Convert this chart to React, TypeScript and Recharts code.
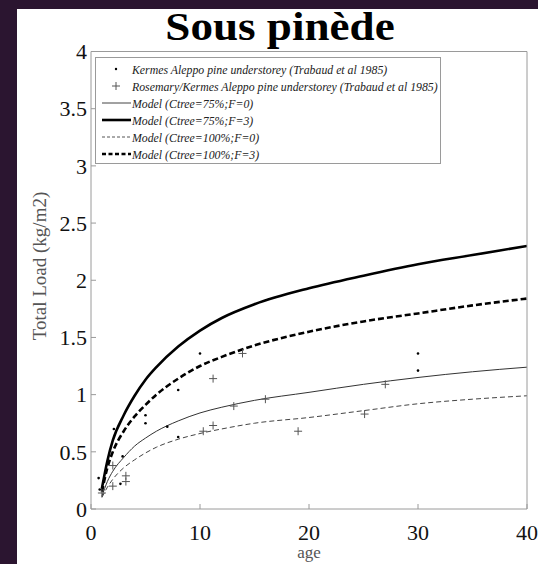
import React from 'react';
import { ComposedChart, Line, Scatter, XAxis, YAxis, Legend } from 'recharts';

// Model curves (age in years -> total load kg/m2)
const modelAges = [1, 1.5, 2, 3, 4, 5, 6, 8, 10, 12, 15, 20, 25, 30, 35, 40];
const model75F0 = [0.11, 0.24, 0.33, 0.45, 0.55, 0.62, 0.68, 0.77, 0.84, 0.89, 0.95, 1.02, 1.09, 1.15, 1.2, 1.24];
const model75F3 = [0.18, 0.42, 0.6, 0.82, 0.99, 1.13, 1.24, 1.42, 1.56, 1.67, 1.79, 1.93, 2.04, 2.14, 2.22, 2.3];
const model100F0 = [0.1, 0.19, 0.26, 0.36, 0.43, 0.49, 0.54, 0.61, 0.66, 0.7, 0.75, 0.8, 0.86, 0.92, 0.96, 0.99];
const model100F3 = [0.15, 0.36, 0.5, 0.68, 0.81, 0.91, 1.0, 1.14, 1.25, 1.33, 1.43, 1.55, 1.64, 1.71, 1.78, 1.84];

// Observations
const kermesAge = [0.7, 0.8, 2.1, 2.7, 2.9, 5, 5, 7, 8, 8, 10, 30, 30];
const kermesLoad = [0.27, 0.17, 0.7, 0.22, 0.46, 0.82, 0.75, 0.72, 0.63, 1.04, 1.36, 1.36, 1.21];
const rosemaryAge = [1, 2, 2, 3.2, 3.2, 10.3, 11.2, 11.2, 13.1, 13.9, 16, 19, 25.1, 27];
const rosemaryLoad = [0.14, 0.38, 0.2, 0.29, 0.24, 0.68, 0.73, 1.14, 0.9, 1.36, 0.96, 0.68, 0.83, 1.09];

const xTicks = [0, 10, 20, 30, 40];
const yTicks = [0, 0.5, 1, 1.5, 2, 2.5, 3, 3.5, 4];

const legendLabels = [
  'Kermes Aleppo pine understorey (Trabaud et al 1985)',
  'Rosemary/Kermes Aleppo pine understorey (Trabaud et al 1985)',
  'Model (Ctree=75%;F=0)',
  'Model (Ctree=75%;F=3)',
  'Model (Ctree=100%;F=0)',
  'Model (Ctree=100%;F=3)',
];

const toLine = (ys: number[]) => modelAges.map((x, i) => ({ x, y: ys[i] }));
const toPts = (xs: number[], ys: number[]) => xs.map((x, i) => ({ x, y: ys[i] }));

const line75F0 = toLine(model75F0);
const line75F3 = toLine(model75F3);
const line100F0 = toLine(model100F0);
const line100F3 = toLine(model100F3);
const kermesPts = toPts(kermesAge, kermesLoad);
const rosemaryPts = toPts(rosemaryAge, rosemaryLoad);

const SERIF = '"Liberation Serif", "Times New Roman", Times, serif';
const AXIS_GRAY = '#9a9a9a';

const DotShape = (p: any) => <circle cx={p.cx} cy={p.cy} r={1.3} fill="#000" />;
const PlusShape = (p: any) => (
  <path
    d={`M${p.cx - 4},${p.cy}H${p.cx + 4}M${p.cx},${p.cy - 4}V${p.cy + 4}`}
    stroke="#555"
    strokeWidth={1}
    fill="none"
  />
);
const NoTick = () => <g />;

const LegendBox = () => {
  const rowY = (i: number) => 12 + i * 17;
  const styles = [
    { w: 1, dash: undefined as string | undefined, color: '#444' },
    { w: 2.6, dash: undefined, color: '#000' },
    { w: 1, dash: '3 2', color: '#555' },
    { w: 2.6, dash: '4 2.5', color: '#000' },
  ];
  return (
    <svg width={346} height={107} style={{ display: 'block' }}>
      <rect x={0.5} y={0.5} width={345} height={106} fill="#fff" stroke={AXIS_GRAY} strokeWidth={1} />
      <circle cx={21} cy={rowY(0)} r={1.2} fill="#000" />
      <path d={`M17,${rowY(1)}H25M21,${rowY(1) - 4}V${rowY(1) + 4}`} stroke="#555" strokeWidth={1} />
      {styles.map((s, i) => (
        <line
          key={i}
          x1={7}
          x2={36}
          y1={rowY(i + 2)}
          y2={rowY(i + 2)}
          stroke={s.color}
          strokeWidth={s.w}
          strokeDasharray={s.dash}
        />
      ))}
      {legendLabels.map((t, i) => (
        <text
          key={t}
          x={37}
          y={rowY(i) + 4.5}
          fontFamily={SERIF}
          fontStyle="italic"
          fontSize={11.8}
          fill="#222"
        >
          {t}
        </text>
      ))}
    </svg>
  );
};

export default function App() {
  return (
    <div
      style={{
        position: 'fixed',
        left: 0,
        top: 0,
        width: 538,
        height: 564,
        background: '#2b1530',
        overflow: 'hidden',
      }}
    >
      <div style={{ position: 'absolute', left: 17, top: 9, width: 521, height: 555, background: '#fff' }} />
      <div
        style={{
          position: 'absolute',
          left: 90,
          top: 2,
          width: 380,
          textAlign: 'center',
          fontFamily: SERIF,
          fontWeight: 'bold',
          fontSize: 41,
          lineHeight: '48px',
          color: '#000',
          transform: 'scaleX(1.1)',
        }}
      >
        Sous pinède
      </div>
      <div
        style={{
          position: 'absolute',
          left: 40,
          top: 266,
          width: 0,
          height: 0,
        }}
      >
        <div
          style={{
            position: 'absolute',
            left: -100,
            top: -12,
            width: 200,
            textAlign: 'center',
            fontFamily: SERIF,
            fontSize: 19,
            lineHeight: '24px',
            color: '#555',
            transform: 'rotate(-90deg)',
            whiteSpace: 'nowrap',
          }}
        >
          Total Load (kg/m2)
        </div>
      </div>
      <div
        style={{
          position: 'absolute',
          left: 259,
          top: 543,
          width: 100,
          textAlign: 'center',
          fontFamily: SERIF,
          fontSize: 17,
          lineHeight: '20px',
          color: '#555',
        }}
      >
        age
      </div>
      <div style={{ position: 'absolute', left: 0, top: 0 }}>
        <ComposedChart
          width={538}
          height={564}
          margin={{ top: 50.5, right: 10, bottom: 25, left: 20 }}
        >
          <XAxis
            xAxisId={0}
            type="number"
            dataKey="x"
            domain={[0, 40]}
            ticks={xTicks}
            allowDataOverflow
            height={30}
            stroke={AXIS_GRAY}
            tickSize={-5}
            tickMargin={20}
            tick={{ fill: '#111', fontSize: 22, fontFamily: SERIF }}
            tickLine={{ stroke: AXIS_GRAY }}
          />
          <XAxis
            xAxisId="top"
            orientation="top"
            type="number"
            dataKey="x"
            domain={[0, 40]}
            ticks={xTicks}
            height={1}
            stroke={AXIS_GRAY}
            tickSize={-5}
            tick={NoTick}
            tickLine={{ stroke: AXIS_GRAY }}
          />
          <YAxis
            yAxisId={0}
            type="number"
            dataKey="y"
            domain={[0, 4]}
            ticks={yTicks}
            allowDataOverflow
            width={71}
            stroke={AXIS_GRAY}
            tickSize={-5}
            tickMargin={9}
            tick={{ fill: '#111', fontSize: 22, fontFamily: SERIF }}
            tickLine={{ stroke: AXIS_GRAY }}
          />
          <YAxis
            yAxisId="right"
            orientation="right"
            type="number"
            dataKey="y"
            domain={[0, 4]}
            ticks={yTicks}
            width={1}
            stroke={AXIS_GRAY}
            tickSize={-5}
            tick={NoTick}
            tickLine={{ stroke: AXIS_GRAY }}
          />
          <Legend
            layout="vertical"
            align="center"
            verticalAlign="middle"
            content={LegendBox}
            wrapperStyle={{ position: 'absolute', left: 95, top: 57, width: 346, height: 107 }}
          />
          <Scatter
            name={legendLabels[0]}
            data={kermesPts}
            dataKey="y"
            shape={DotShape}
            isAnimationActive={false}
          />
          <Scatter
            name={legendLabels[1]}
            data={rosemaryPts}
            dataKey="y"
            shape={PlusShape}
            isAnimationActive={false}
          />
          <Line
            name={legendLabels[2]}
            data={line75F0}
            dataKey="y"
            type="monotone"
            stroke="#333"
            strokeWidth={1}
            dot={false}
            activeDot={false}
            isAnimationActive={false}
          />
          <Line
            name={legendLabels[3]}
            data={line75F3}
            dataKey="y"
            type="monotone"
            stroke="#000"
            strokeWidth={2.6}
            dot={false}
            activeDot={false}
            isAnimationActive={false}
          />
          <Line
            name={legendLabels[4]}
            data={line100F0}
            dataKey="y"
            type="monotone"
            stroke="#444"
            strokeWidth={1}
            strokeDasharray="5 3"
            dot={false}
            activeDot={false}
            isAnimationActive={false}
          />
          <Line
            name={legendLabels[5]}
            data={line100F3}
            dataKey="y"
            type="monotone"
            stroke="#000"
            strokeWidth={2.6}
            strokeDasharray="6 3"
            dot={false}
            activeDot={false}
            isAnimationActive={false}
          />
        </ComposedChart>
      </div>
    </div>
  );
}
